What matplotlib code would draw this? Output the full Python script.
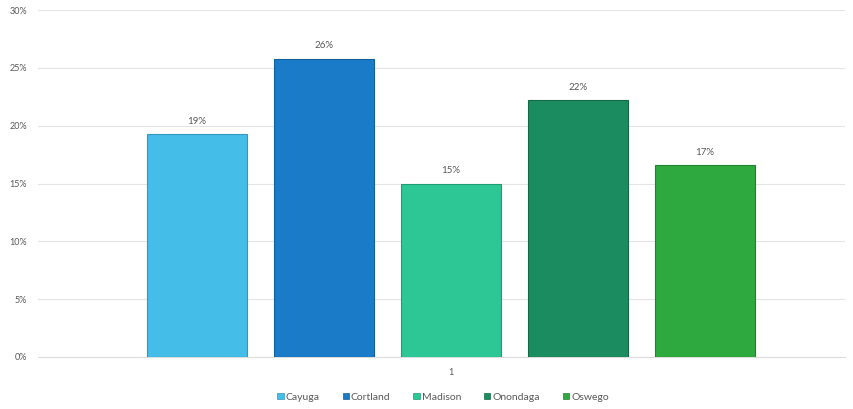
import matplotlib.pyplot as plt
from matplotlib.patches import Patch
from matplotlib.ticker import PercentFormatter

counties = ['Cayuga', 'Cortland', 'Madison', 'Onondaga', 'Oswego']
shares = [0.193, 0.258, 0.150, 0.222, 0.166]
labels = ['19%', '26%', '15%', '22%', '17%']
colors = ['#45bde9', '#1a7bc8', '#2cc795', '#1b8c5f', '#2ea93f']
edges = ['#3198c0', '#13609e', '#209c73', '#146a48', '#228030']

plt.rcParams['font.family'] = ['Lato', 'DejaVu Sans']

fig = plt.figure(figsize=(8.54, 4.09), dpi=100)
ax = fig.add_axes([38 / 854, 52 / 409, 807 / 854, 347 / 409])

step = 1.27
xs = [i * step for i in range(len(counties))]
bars = ax.bar(xs, shares, width=1.0, color=colors, edgecolor=edges, linewidth=0.8, zorder=3)

for x, v, lab in zip(xs, shares, labels):
    ax.text(x, v + 0.007, lab, ha='center', va='bottom', fontsize=7, color='#595959')

ax.set_xlim(-1.59, 6.48)
ax.set_ylim(0, 0.30)
ax.set_yticks([0, 0.05, 0.10, 0.15, 0.20, 0.25, 0.30])
ax.yaxis.set_major_formatter(PercentFormatter(1.0, decimals=0))
ax.set_xticks([xs[2]])
ax.set_xticklabels(['1'])
ax.tick_params(axis='both', length=0, labelsize=6.5, colors='#595959')
ax.tick_params(axis='y', pad=8)
ax.tick_params(axis='x', pad=8)
ax.grid(axis='y', color='#e4e4e4', linewidth=0.8, zorder=0)
for side in ['top', 'right', 'left']:
    ax.spines[side].set_visible(False)
ax.spines['bottom'].set_color('#dcdcdc')
ax.spines['bottom'].set_linewidth(0.8)

handles = [Patch(facecolor=c, edgecolor=e, linewidth=0.5) for c, e in zip(colors, edges)]
fig.legend(handles, counties, loc='center', bbox_to_anchor=(443 / 854, 12 / 409), ncol=5,
           frameon=False, fontsize=7.5, labelcolor='#595959', handlelength=0.6, handleheight=0.6,
           handletextpad=0.2, columnspacing=2.2)

fig.savefig('out.png', dpi=100)
